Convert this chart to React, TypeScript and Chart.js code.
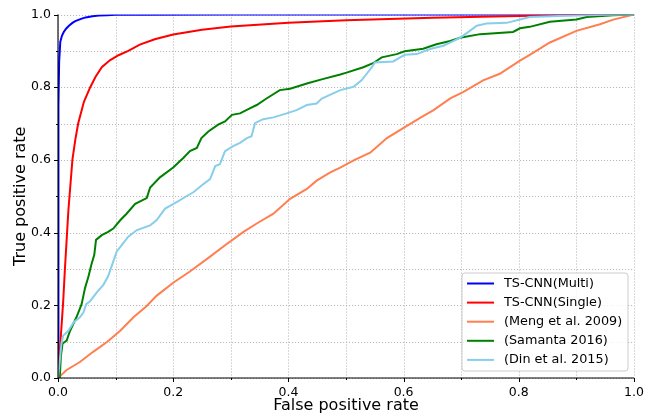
import { useEffect, useRef } from 'react';
import { Chart, registerables } from 'chart.js';

Chart.register(...registerables);

const FONT = '"DejaVu Sans", "Liberation Sans", sans-serif';

const seriesLabels = ['TS-CNN(Multi)', 'TS-CNN(Single)', '(Meng et al. 2009)', '(Samanta 2016)', '(Din et al. 2015)'];
const seriesColors = ['#0000ff', '#ff0000', '#ff7f50', '#008000', '#87ceeb'];

const xTickValues = [0, 0.2, 0.4, 0.6, 0.8, 1.0];
const gridValues = [0, 0.1, 0.2, 0.3, 0.4, 0.5, 0.6, 0.7, 0.8, 0.9, 1.0];

const multiX = [0, 0.0005, 0.001, 0.002, 0.004, 0.007, 0.01, 0.014, 0.019, 0.025, 0.03, 0.04, 0.048, 0.06, 0.071, 0.085, 0.1, 0.15, 0.3, 0.6, 1.0];
const multiY = [0, 0.45, 0.75, 0.87, 0.925, 0.942, 0.952, 0.961, 0.969, 0.977, 0.982, 0.988, 0.992, 0.995, 0.997, 0.998, 0.999, 0.9995, 1.0, 1.0, 1.0];

const singleX = [0, 0.003, 0.006, 0.009, 0.012, 0.015, 0.018, 0.02, 0.025, 0.03, 0.035, 0.045, 0.056, 0.065, 0.076, 0.09, 0.105, 0.122, 0.142, 0.168, 0.2, 0.25, 0.3, 0.4, 0.5, 0.65, 0.8, 0.9, 1.0];
const singleY = [0, 0.07, 0.14, 0.21, 0.3, 0.38, 0.46, 0.5, 0.6, 0.655, 0.7, 0.76, 0.8, 0.828, 0.855, 0.874, 0.888, 0.9, 0.917, 0.932, 0.945, 0.958, 0.967, 0.977, 0.984, 0.991, 0.996, 0.999, 1.0];

const mengX = [0, 0.015, 0.038, 0.061, 0.085, 0.108, 0.131, 0.154, 0.171, 0.2, 0.229, 0.264, 0.29, 0.322, 0.345, 0.374, 0.403, 0.432, 0.449, 0.472, 0.49, 0.515, 0.542, 0.571, 0.6, 0.628, 0.652, 0.681, 0.704, 0.738, 0.767, 0.802, 0.819, 0.854, 0.9, 0.941, 0.964, 1.0];
const mengY = [0, 0.022, 0.044, 0.072, 0.099, 0.13, 0.167, 0.198, 0.226, 0.262, 0.293, 0.334, 0.365, 0.402, 0.425, 0.452, 0.493, 0.52, 0.543, 0.565, 0.579, 0.6, 0.62, 0.66, 0.688, 0.715, 0.737, 0.769, 0.787, 0.819, 0.837, 0.873, 0.889, 0.923, 0.955, 0.973, 0.986, 1.0];

const samantaX = [0, 0.003, 0.005, 0.008, 0.015, 0.021, 0.032, 0.041, 0.047, 0.053, 0.058, 0.063, 0.066, 0.076, 0.087, 0.096, 0.108, 0.119, 0.134, 0.154, 0.16, 0.177, 0.2, 0.218, 0.229, 0.241, 0.249, 0.261, 0.278, 0.29, 0.302, 0.316, 0.333, 0.345, 0.362, 0.385, 0.403, 0.432, 0.461, 0.49, 0.501, 0.53, 0.547, 0.562, 0.588, 0.602, 0.634, 0.657, 0.681, 0.698, 0.733, 0.79, 0.802, 0.819, 0.854, 0.9, 0.918, 0.964, 1.0];
const samantaY = [0, 0.0, 0.06, 0.095, 0.103, 0.13, 0.167, 0.203, 0.248, 0.28, 0.312, 0.339, 0.38, 0.393, 0.402, 0.411, 0.434, 0.452, 0.479, 0.495, 0.524, 0.552, 0.579, 0.606, 0.624, 0.633, 0.66, 0.678, 0.697, 0.706, 0.724, 0.728, 0.742, 0.751, 0.769, 0.792, 0.796, 0.81, 0.823, 0.835, 0.84, 0.855, 0.866, 0.882, 0.891, 0.899, 0.906, 0.918, 0.927, 0.936, 0.946, 0.952, 0.962, 0.966, 0.98, 0.986, 0.993, 0.998, 1.0];

const dinX = [0, 0.002, 0.006, 0.009, 0.018, 0.027, 0.038, 0.044, 0.049, 0.056, 0.067, 0.079, 0.087, 0.093, 0.102, 0.111, 0.122, 0.137, 0.16, 0.171, 0.186, 0.206, 0.223, 0.235, 0.252, 0.264, 0.273, 0.281, 0.29, 0.304, 0.316, 0.328, 0.336, 0.342, 0.356, 0.374, 0.397, 0.414, 0.432, 0.449, 0.458, 0.49, 0.513, 0.527, 0.536, 0.545, 0.55, 0.582, 0.594, 0.602, 0.623, 0.646, 0.669, 0.686, 0.698, 0.715, 0.727, 0.744, 0.779, 0.802, 0.819, 0.87, 0.95, 1.0];
const dinY = [0, 0.03, 0.095, 0.117, 0.13, 0.153, 0.167, 0.18, 0.203, 0.212, 0.235, 0.257, 0.28, 0.307, 0.348, 0.366, 0.389, 0.407, 0.42, 0.434, 0.466, 0.484, 0.5, 0.511, 0.533, 0.547, 0.583, 0.588, 0.624, 0.638, 0.647, 0.66, 0.665, 0.701, 0.712, 0.717, 0.728, 0.737, 0.751, 0.755, 0.769, 0.792, 0.801, 0.819, 0.837, 0.855, 0.868, 0.871, 0.882, 0.889, 0.891, 0.905, 0.914, 0.927, 0.936, 0.955, 0.969, 0.975, 0.977, 0.986, 0.993, 0.996, 0.999, 1.0];

const seriesX = [multiX, singleX, mengX, samantaX, dinX];
const seriesY = [multiY, singleY, mengY, samantaY, dinY];

const toPoints = (xs: number[], ys: number[]) => xs.map((x, i) => ({ x, y: ys[i] }));

const mplPlugin = {
  id: 'mplDecor',
  beforeDatasetsDraw(chart: any) {
    const { ctx, chartArea, scales } = chart;
    const { left, right, top, bottom } = chartArea;
    ctx.save();
    ctx.strokeStyle = '#b0b0b0';
    ctx.lineWidth = 0.9;
    ctx.setLineDash([1.1, 1.9]);
    for (const v of gridValues) {
      const px = Math.round(scales.x.getPixelForValue(v)) + 0.5;
      ctx.beginPath();
      ctx.moveTo(px, top);
      ctx.lineTo(px, bottom);
      ctx.stroke();
      const py = Math.round(scales.y.getPixelForValue(v)) + 0.5;
      ctx.beginPath();
      ctx.moveTo(left, py);
      ctx.lineTo(right, py);
      ctx.stroke();
    }
    ctx.restore();
  },
  afterDatasetsDraw(chart: any) {
    const { ctx, chartArea, scales } = chart;
    const { left, right, top, bottom } = chartArea;
    ctx.save();
    // spines
    ctx.strokeStyle = '#000';
    ctx.lineWidth = 1.1;
    ctx.beginPath();
    ctx.moveTo(left, top);
    ctx.lineTo(left, bottom);
    ctx.lineTo(right, bottom);
    ctx.stroke();
    // ticks
    ctx.lineWidth = 1;
    gridValues.forEach((v, i) => {
      const len = i % 2 === 0 ? 4 : 2;
      const px = Math.round(scales.x.getPixelForValue(v)) + 0.5;
      ctx.beginPath();
      ctx.moveTo(px, bottom);
      ctx.lineTo(px, bottom + len);
      ctx.stroke();
      const py = Math.round(scales.y.getPixelForValue(v)) + 0.5;
      ctx.beginPath();
      ctx.moveTo(left, py);
      ctx.lineTo(left - len, py);
      ctx.stroke();
    });
    // legend
    const w = 166;
    const h = 98;
    const x0 = right - 6 - w;
    const y0 = bottom - 7 - h;
    const r = 3;
    ctx.beginPath();
    ctx.moveTo(x0 + r, y0);
    ctx.arcTo(x0 + w, y0, x0 + w, y0 + h, r);
    ctx.arcTo(x0 + w, y0 + h, x0, y0 + h, r);
    ctx.arcTo(x0, y0 + h, x0, y0, r);
    ctx.arcTo(x0, y0, x0 + w, y0, r);
    ctx.closePath();
    ctx.fillStyle = 'rgba(255,255,255,0.8)';
    ctx.fill();
    ctx.strokeStyle = '#cccccc';
    ctx.lineWidth = 1;
    ctx.stroke();
    ctx.font = `12.8px ${FONT}`;
    ctx.textBaseline = 'middle';
    ctx.textAlign = 'left';
    chart.data.datasets.forEach((ds: any, i: number) => {
      const cy = y0 + 10.5 + i * 19.1;
      ctx.strokeStyle = ds.borderColor;
      ctx.lineWidth = 2;
      ctx.beginPath();
      ctx.moveTo(x0 + 5, cy);
      ctx.lineTo(x0 + 32, cy);
      ctx.stroke();
      ctx.fillStyle = '#000';
      ctx.fillText(ds.label, x0 + 42, cy);
    });
    ctx.restore();
  },
};

export default function App() {
  const ref = useRef<HTMLCanvasElement | null>(null);
  useEffect(() => {
    if (!ref.current) return;
    const datasets = seriesLabels.map((label, i) => ({
      label,
      data: toPoints(seriesX[i], seriesY[i]),
      borderColor: seriesColors[i],
      backgroundColor: seriesColors[i],
      borderWidth: 2,
      pointRadius: 0,
      showLine: true,
      fill: false,
      tension: 0,
      order: seriesLabels.length - i,
    }));
    const chart = new Chart(ref.current, {
      type: 'scatter',
      data: { datasets },
      plugins: [mplPlugin],
      options: {
        animation: false,
        responsive: false,
        devicePixelRatio: 1,
        layout: { padding: { left: 0, top: 10, right: 28, bottom: 0 } },
        plugins: { legend: { display: false }, tooltip: { enabled: false } },
        scales: {
          x: {
            type: 'linear',
            min: 0,
            max: 1,
            afterFit: (s: any) => { s.height = 42; },
            afterBuildTicks: (s: any) => { s.ticks = xTickValues.map((v) => ({ value: v })); },
            ticks: {
              stepSize: 0.2,
              callback: (v: any) => Number(v).toFixed(1),
              font: { family: FONT, size: 12.5 },
              color: '#000',
              padding: 7,
              maxRotation: 0,
            },
            grid: { display: false, drawTicks: false },
            border: { display: false },
            title: {
              display: true,
              text: 'False positive rate',
              font: { family: FONT, size: 16 },
              color: '#000',
              padding: { top: 0, bottom: 5 },
            },
          },
          y: {
            type: 'linear',
            min: 0,
            max: 1,
            afterFit: (s: any) => { s.width = 58; },
            afterBuildTicks: (s: any) => { s.ticks = xTickValues.map((v) => ({ value: v })); },
            ticks: {
              stepSize: 0.2,
              callback: (v: any) => Number(v).toFixed(1),
              font: { family: FONT, size: 12.5 },
              color: '#000',
              padding: 7,
            },
            grid: { display: false, drawTicks: false },
            border: { display: false },
            title: {
              display: true,
              text: 'True positive rate',
              font: { family: FONT, size: 16 },
              color: '#000',
              padding: { top: 11, bottom: 0 },
            },
          },
        },
      },
    });
    return () => chart.destroy();
  }, []);
  return (
    <div style={{ position: 'absolute', left: 0, top: 0, width: 662, height: 420, background: '#fff' }}>
      <canvas ref={ref} width={662} height={420} style={{ display: 'block', width: 662, height: 420 }} />
    </div>
  );
}
